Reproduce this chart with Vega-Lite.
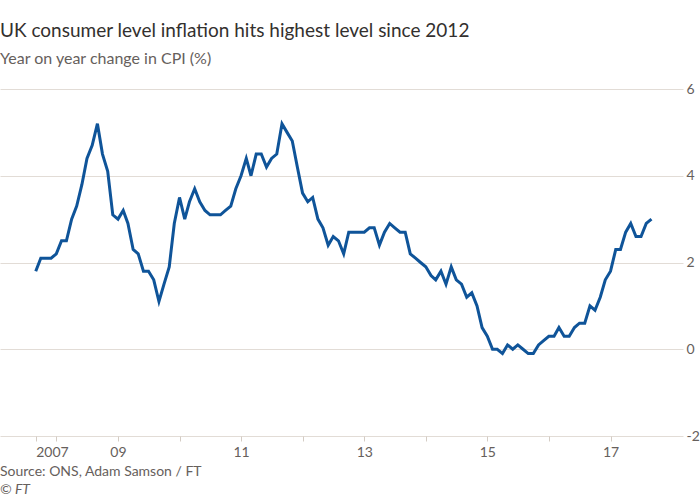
{
  "$schema": "https://vega.github.io/schema/vega-lite/v6.json",
  "padding": {"top": 22, "left": 0, "right": 0, "bottom": 0},
  "background": "white",
  "config": {
    "view": {"stroke": null},
    "font": "Lato",
    "concat": {"spacing": 0}
  },
  "title": {
    "text": "Source: ONS, Adam Samson / FT",
    "subtitle": "© FT",
    "orient": "bottom",
    "anchor": "start",
    "fontSize": 14,
    "fontWeight": "normal",
    "color": "#66605c",
    "subtitleFontSize": 14,
    "subtitleFontStyle": "italic",
    "subtitleColor": "#66605c",
    "subtitlePadding": 4,
    "offset": 6
  },
  "data": {
    "values": [
      {"month": "2007-09-01", "cpi": 1.8},
      {"month": "2007-10-01", "cpi": 2.1},
      {"month": "2007-11-01", "cpi": 2.1},
      {"month": "2007-12-01", "cpi": 2.1},
      {"month": "2008-01-01", "cpi": 2.2},
      {"month": "2008-02-01", "cpi": 2.5},
      {"month": "2008-03-01", "cpi": 2.5},
      {"month": "2008-04-01", "cpi": 3.0},
      {"month": "2008-05-01", "cpi": 3.3},
      {"month": "2008-06-01", "cpi": 3.8},
      {"month": "2008-07-01", "cpi": 4.4},
      {"month": "2008-08-01", "cpi": 4.7},
      {"month": "2008-09-01", "cpi": 5.2},
      {"month": "2008-10-01", "cpi": 4.5},
      {"month": "2008-11-01", "cpi": 4.1},
      {"month": "2008-12-01", "cpi": 3.1},
      {"month": "2009-01-01", "cpi": 3.0},
      {"month": "2009-02-01", "cpi": 3.2},
      {"month": "2009-03-01", "cpi": 2.9},
      {"month": "2009-04-01", "cpi": 2.3},
      {"month": "2009-05-01", "cpi": 2.2},
      {"month": "2009-06-01", "cpi": 1.8},
      {"month": "2009-07-01", "cpi": 1.8},
      {"month": "2009-08-01", "cpi": 1.6},
      {"month": "2009-09-01", "cpi": 1.1},
      {"month": "2009-10-01", "cpi": 1.5},
      {"month": "2009-11-01", "cpi": 1.9},
      {"month": "2009-12-01", "cpi": 2.9},
      {"month": "2010-01-01", "cpi": 3.5},
      {"month": "2010-02-01", "cpi": 3.0},
      {"month": "2010-03-01", "cpi": 3.4},
      {"month": "2010-04-01", "cpi": 3.7},
      {"month": "2010-05-01", "cpi": 3.4},
      {"month": "2010-06-01", "cpi": 3.2},
      {"month": "2010-07-01", "cpi": 3.1},
      {"month": "2010-08-01", "cpi": 3.1},
      {"month": "2010-09-01", "cpi": 3.1},
      {"month": "2010-10-01", "cpi": 3.2},
      {"month": "2010-11-01", "cpi": 3.3},
      {"month": "2010-12-01", "cpi": 3.7},
      {"month": "2011-01-01", "cpi": 4.0},
      {"month": "2011-02-01", "cpi": 4.4},
      {"month": "2011-03-01", "cpi": 4.0},
      {"month": "2011-04-01", "cpi": 4.5},
      {"month": "2011-05-01", "cpi": 4.5},
      {"month": "2011-06-01", "cpi": 4.2},
      {"month": "2011-07-01", "cpi": 4.4},
      {"month": "2011-08-01", "cpi": 4.5},
      {"month": "2011-09-01", "cpi": 5.2},
      {"month": "2011-10-01", "cpi": 5.0},
      {"month": "2011-11-01", "cpi": 4.8},
      {"month": "2011-12-01", "cpi": 4.2},
      {"month": "2012-01-01", "cpi": 3.6},
      {"month": "2012-02-01", "cpi": 3.4},
      {"month": "2012-03-01", "cpi": 3.5},
      {"month": "2012-04-01", "cpi": 3.0},
      {"month": "2012-05-01", "cpi": 2.8},
      {"month": "2012-06-01", "cpi": 2.4},
      {"month": "2012-07-01", "cpi": 2.6},
      {"month": "2012-08-01", "cpi": 2.5},
      {"month": "2012-09-01", "cpi": 2.2},
      {"month": "2012-10-01", "cpi": 2.7},
      {"month": "2012-11-01", "cpi": 2.7},
      {"month": "2012-12-01", "cpi": 2.7},
      {"month": "2013-01-01", "cpi": 2.7},
      {"month": "2013-02-01", "cpi": 2.8},
      {"month": "2013-03-01", "cpi": 2.8},
      {"month": "2013-04-01", "cpi": 2.4},
      {"month": "2013-05-01", "cpi": 2.7},
      {"month": "2013-06-01", "cpi": 2.9},
      {"month": "2013-07-01", "cpi": 2.8},
      {"month": "2013-08-01", "cpi": 2.7},
      {"month": "2013-09-01", "cpi": 2.7},
      {"month": "2013-10-01", "cpi": 2.2},
      {"month": "2013-11-01", "cpi": 2.1},
      {"month": "2013-12-01", "cpi": 2.0},
      {"month": "2014-01-01", "cpi": 1.9},
      {"month": "2014-02-01", "cpi": 1.7},
      {"month": "2014-03-01", "cpi": 1.6},
      {"month": "2014-04-01", "cpi": 1.8},
      {"month": "2014-05-01", "cpi": 1.5},
      {"month": "2014-06-01", "cpi": 1.9},
      {"month": "2014-07-01", "cpi": 1.6},
      {"month": "2014-08-01", "cpi": 1.5},
      {"month": "2014-09-01", "cpi": 1.2},
      {"month": "2014-10-01", "cpi": 1.3},
      {"month": "2014-11-01", "cpi": 1.0},
      {"month": "2014-12-01", "cpi": 0.5},
      {"month": "2015-01-01", "cpi": 0.3},
      {"month": "2015-02-01", "cpi": 0.0},
      {"month": "2015-03-01", "cpi": 0.0},
      {"month": "2015-04-01", "cpi": -0.1},
      {"month": "2015-05-01", "cpi": 0.1},
      {"month": "2015-06-01", "cpi": 0.0},
      {"month": "2015-07-01", "cpi": 0.1},
      {"month": "2015-08-01", "cpi": 0.0},
      {"month": "2015-09-01", "cpi": -0.1},
      {"month": "2015-10-01", "cpi": -0.1},
      {"month": "2015-11-01", "cpi": 0.1},
      {"month": "2015-12-01", "cpi": 0.2},
      {"month": "2016-01-01", "cpi": 0.3},
      {"month": "2016-02-01", "cpi": 0.3},
      {"month": "2016-03-01", "cpi": 0.5},
      {"month": "2016-04-01", "cpi": 0.3},
      {"month": "2016-05-01", "cpi": 0.3},
      {"month": "2016-06-01", "cpi": 0.5},
      {"month": "2016-07-01", "cpi": 0.6},
      {"month": "2016-08-01", "cpi": 0.6},
      {"month": "2016-09-01", "cpi": 1.0},
      {"month": "2016-10-01", "cpi": 0.9},
      {"month": "2016-11-01", "cpi": 1.2},
      {"month": "2016-12-01", "cpi": 1.6},
      {"month": "2017-01-01", "cpi": 1.8},
      {"month": "2017-02-01", "cpi": 2.3},
      {"month": "2017-03-01", "cpi": 2.3},
      {"month": "2017-04-01", "cpi": 2.7},
      {"month": "2017-05-01", "cpi": 2.9},
      {"month": "2017-06-01", "cpi": 2.6},
      {"month": "2017-07-01", "cpi": 2.6},
      {"month": "2017-08-01", "cpi": 2.9},
      {"month": "2017-09-01", "cpi": 3.0}
    ]
  },
  "vconcat": [
    {
      "title": {
        "text": "UK consumer level inflation hits highest level since 2012",
        "subtitle": "Year on year change in CPI (%)",
        "anchor": "start",
        "fontSize": 19,
        "fontWeight": "normal",
        "color": "#33302e",
        "subtitleFontSize": 16,
        "subtitleColor": "#66605c",
        "subtitlePadding": 10,
        "offset": 15
      },
      "width": 683,
      "height": 347,
      "mark": {"type": "line", "color": "#0f5499", "strokeWidth": 3},
      "encoding": {
        "x": {
          "field": "month",
          "type": "temporal",
          "scale": {"domain": ["2007-02-01", "2018-03-07"]},
          "axis": {
            "title": null,
            "grid": false,
            "domain": false,
            "values": [
              {"year": 2007, "month": 9, "date": 1},
              {"year": 2008, "month": 1, "date": 1},
              {"year": 2009, "month": 1, "date": 1},
              {"year": 2010, "month": 1, "date": 1},
              {"year": 2011, "month": 1, "date": 1},
              {"year": 2012, "month": 1, "date": 1},
              {"year": 2013, "month": 1, "date": 1},
              {"year": 2014, "month": 1, "date": 1},
              {"year": 2015, "month": 1, "date": 1},
              {"year": 2016, "month": 1, "date": 1},
              {"year": 2017, "month": 1, "date": 1}
            ],
            "labelExpr": "year(datum.value) == 2007 ? '2007' : (year(datum.value) % 2 == 1 ? timeFormat(datum.value, '%y') : '')",
            "labelAlign": {"condition": {"test": "year(datum.value) == 2007", "value": "left"}, "value": "center"},
            "tickSize": 5,
            "tickColor": "#d4ccc4",
            "labelPadding": 4,
            "labelFontSize": 14,
            "labelColor": "#66605c",
            "labelFlush": false,
            "labelOverlap": false
          }
        },
        "y": {
          "field": "cpi",
          "type": "quantitative",
          "scale": {"domain": [-2, 6], "nice": false, "zero": false},
          "axis": {
            "title": null,
            "orient": "right",
            "values": [-2, 0, 2, 4, 6],
            "labelExpr": "datum.value + ''",
            "domain": false,
            "ticks": false,
            "grid": true,
            "gridColor": "#e2dcd6",
            "labelPadding": 3,
            "labelFontSize": 14,
            "labelColor": "#66605c"
          }
        }
      }
    }
  ]
}
